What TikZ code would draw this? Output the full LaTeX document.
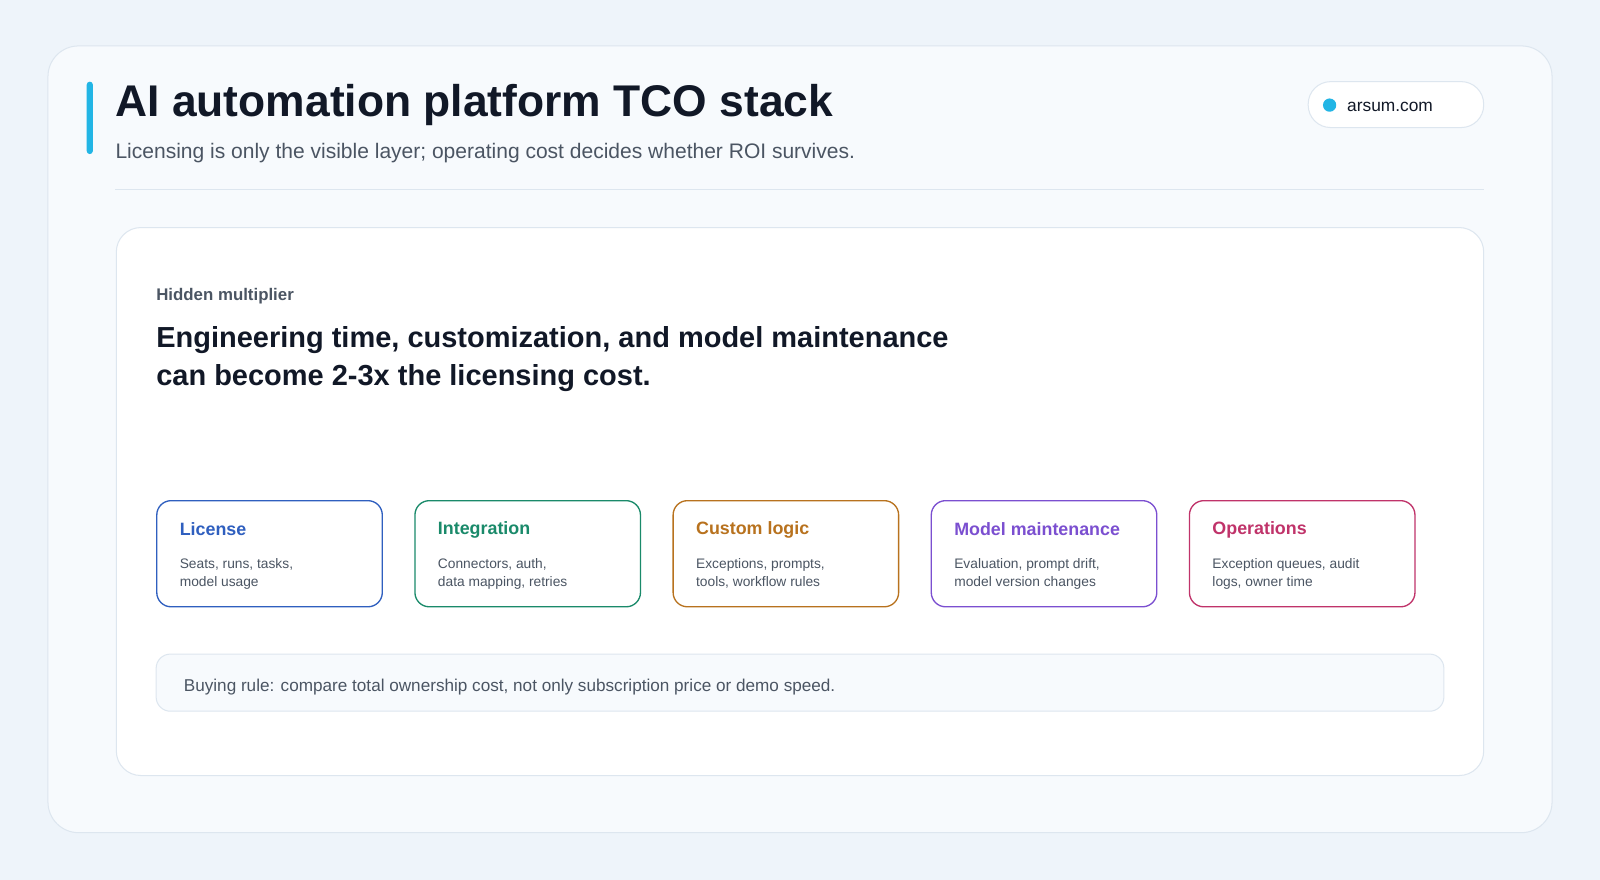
\documentclass[tikz,border=0pt]{standalone}
\usepackage{fontspec}
\setmainfont{Liberation Sans}
\definecolor{bg}{HTML}{EEF4FA}
\definecolor{card}{HTML}{F7FAFD}
\definecolor{bord}{HTML}{DDE6EF}
\definecolor{cyanA}{HTML}{22B5E5}
\definecolor{ink}{HTML}{111827}
\definecolor{sub}{HTML}{4B5563}
\definecolor{cblue}{HTML}{2F5FBF}
\definecolor{cgreen}{HTML}{1A8A6A}
\definecolor{corange}{HTML}{B8721E}
\definecolor{cpurple}{HTML}{7B4FD0}
\definecolor{cmag}{HTML}{C0336A}
\tikzset{
 lbl/.style={anchor=west,inner sep=0pt},
 costbox/.style={draw=#1,line width=1.3pt,rounded corners=14pt,minimum width=221pt,minimum height=104pt,anchor=north west,fill=white},
 boxtitle/.style={lbl,text=#1,font=\fontsize{17.5}{20}\selectfont\bfseries},
 boxbody/.style={lbl,text=sub,font=\fontsize{13.5}{17.5}\selectfont,align=left,anchor=north west},
}
\begin{document}
\begin{tikzpicture}[x=1pt,y=-1pt]
\useasboundingbox (0,0) rectangle (1568,862);
\fill[bg] (0,0) rectangle (1568,862);
\draw[bord,fill=card,line width=1pt,rounded corners=30pt] (47,45) rectangle (1521,816);
\fill[cyanA,rounded corners=3pt] (85,80) rectangle (91,151);
\node[lbl,text=ink,font=\fontsize{43.5}{50}\selectfont\bfseries] (title) at (113,103) {AI automation platform TCO stack};
\node[lbl,text=sub,font=\fontsize{20.6}{24}\selectfont] (subt) at (113,150) {Licensing is only the visible layer; operating cost decides whether ROI survives.};
\draw[bord,fill=white,line width=1pt,rounded corners=22pt] (1282,80) rectangle (1454,125);
\fill[cyanA] (1303,103) circle (6.5);
\node[lbl,text=ink,font=\fontsize{17}{20}\selectfont] (site) at (1320,105) {arsum.com};
\draw[bord,line width=1pt] (113,186) -- (1454,186);
\draw[bord,fill=white,line width=1pt,rounded corners=24pt] (114,223) rectangle (1454,760);
\node[lbl,text=sub,font=\fontsize{16.5}{20}\selectfont\bfseries] (hm) at (153,290) {Hidden multiplier};
\node[lbl,anchor=north west,text=ink,font=\fontsize{28.4}{37}\selectfont\bfseries,align=left] (big) at (153,320) {Engineering time, customization, and model maintenance\\can become 2-3x the licensing cost.};
\foreach \x/\c/\t/\a/\b [count=\i] in {
 153/cblue/License/{Seats, runs, tasks,}/{model usage},
 406/cgreen/Integration/{Connectors, auth,}/{data mapping, retries},
 659/corange/Custom logic/{Exceptions, prompts,}/{tools, workflow rules},
 912/cpurple/Model maintenance/{Evaluation, prompt drift,}/{model version changes},
 1165/cmag/Operations/{Exception queues, audit}/{logs, owner time}}{
 \node[costbox=\c] (box\i) at (\x,490) {};
 \node[boxtitle=\c] (bt\i) at (\x+23,519) {\t};
 \node[boxbody] (bb\i) at (\x+23,547) {\a\\\b};
}
\draw[bord,fill=card,line width=1pt,rounded corners=14pt] (153,641) rectangle (1415,697);
\node[lbl,text=sub,font=\fontsize{16.8}{20}\selectfont] (rule) at (180,673) {Buying rule: compare total ownership cost, not only subscription price or demo speed.};
\end{tikzpicture}
\end{document}
